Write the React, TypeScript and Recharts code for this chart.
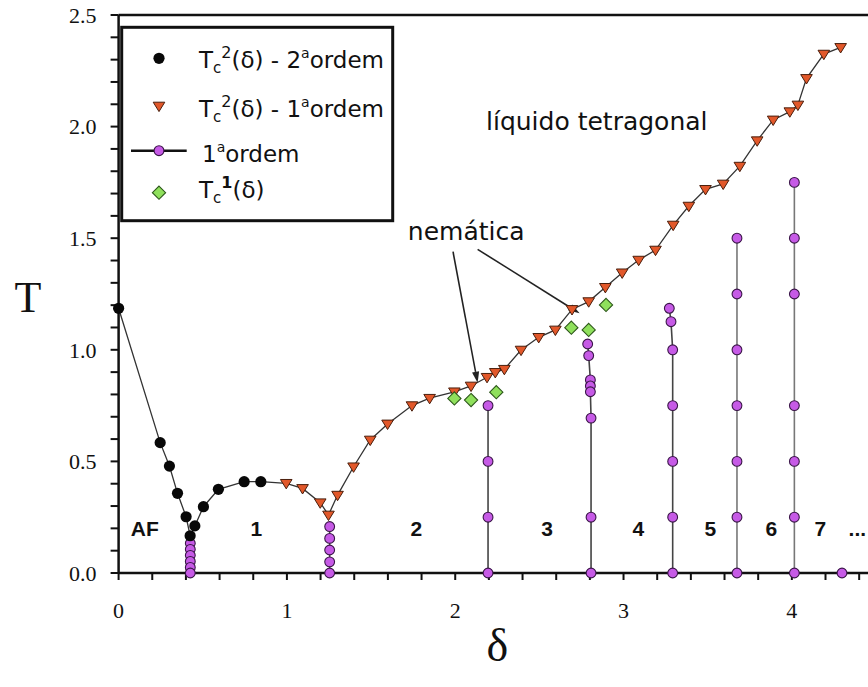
import React from 'react';
import { ScatterChart, Scatter, XAxis, YAxis, ReferenceLine } from 'recharts';

// Tc2(δ) - second order transition (black circles)
const secondOrder = [
  { x: 0.0, y: 1.186 }, { x: 0.247, y: 0.584 }, { x: 0.302, y: 0.479 }, { x: 0.35, y: 0.357 },
  { x: 0.401, y: 0.252 }, { x: 0.425, y: 0.167 }, { x: 0.453, y: 0.211 }, { x: 0.504, y: 0.297 },
  { x: 0.593, y: 0.375 }, { x: 0.746, y: 0.409 }, { x: 0.845, y: 0.409 },
];

// Tc2(δ) - first order transition (orange triangles)
const firstOrderTc2 = [
  { x: 0.996, y: 0.402 }, { x: 1.093, y: 0.379 }, { x: 1.198, y: 0.315 }, { x: 1.247, y: 0.26 },
  { x: 1.301, y: 0.349 }, { x: 1.396, y: 0.476 }, { x: 1.495, y: 0.596 }, { x: 1.598, y: 0.668 },
  { x: 1.743, y: 0.75 }, { x: 1.848, y: 0.783 }, { x: 1.995, y: 0.812 }, { x: 2.094, y: 0.838 },
  { x: 2.189, y: 0.877 }, { x: 2.238, y: 0.899 }, { x: 2.292, y: 0.913 }, { x: 2.391, y: 0.999 },
  { x: 2.496, y: 1.056 }, { x: 2.595, y: 1.089 }, { x: 2.694, y: 1.181 }, { x: 2.793, y: 1.216 },
  { x: 2.892, y: 1.28 }, { x: 2.992, y: 1.345 }, { x: 3.09, y: 1.402 }, { x: 3.19, y: 1.447 },
  { x: 3.295, y: 1.559 }, { x: 3.388, y: 1.644 }, { x: 3.487, y: 1.719 }, { x: 3.592, y: 1.743 },
  { x: 3.691, y: 1.823 }, { x: 3.794, y: 1.937 }, { x: 3.889, y: 2.03 }, { x: 3.988, y: 2.067 },
  { x: 4.036, y: 2.097 }, { x: 4.087, y: 2.216 }, { x: 4.19, y: 2.325 }, { x: 4.29, y: 2.355 },
];

// Tc1(δ) (green diamonds)
const tc1 = [
  { x: 1.995, y: 0.782 }, { x: 2.094, y: 0.775 }, { x: 2.244, y: 0.81 },
  { x: 2.69, y: 1.099 }, { x: 2.793, y: 1.089 }, { x: 2.896, y: 1.201 },
];

// 1st order lines (purple)
const firstOrderAF1 = [
  { x: 0.426, y: 0.133 }, { x: 0.426, y: 0.106 }, { x: 0.426, y: 0.079 },
  { x: 0.426, y: 0.052 }, { x: 0.426, y: 0.025 }, { x: 0.426, y: 0.0 },
];
const firstOrder12 = [
  { x: 1.254, y: 0.208 }, { x: 1.254, y: 0.155 }, { x: 1.254, y: 0.103 },
  { x: 1.254, y: 0.05 }, { x: 1.254, y: 0.0 },
];
const firstOrder23 = [
  { x: 2.195, y: 0.75 }, { x: 2.195, y: 0.5 }, { x: 2.195, y: 0.25 }, { x: 2.195, y: 0.0 },
];
const firstOrder34 = [
  { x: 2.787, y: 1.026 }, { x: 2.793, y: 0.974 }, { x: 2.803, y: 0.865 }, { x: 2.803, y: 0.838 },
  { x: 2.803, y: 0.812 }, { x: 2.807, y: 0.694 }, { x: 2.807, y: 0.25 }, { x: 2.807, y: 0.0 },
];
const firstOrder45 = [
  { x: 3.272, y: 1.186 }, { x: 3.282, y: 1.126 }, { x: 3.292, y: 1.0 }, { x: 3.292, y: 0.75 },
  { x: 3.292, y: 0.5 }, { x: 3.292, y: 0.25 }, { x: 3.292, y: 0.0 },
];
const firstOrder56 = [
  { x: 3.674, y: 1.5 }, { x: 3.674, y: 1.25 }, { x: 3.674, y: 1.0 }, { x: 3.674, y: 0.75 },
  { x: 3.674, y: 0.5 }, { x: 3.674, y: 0.25 }, { x: 3.674, y: 0.0 },
];
const firstOrder67 = [
  { x: 4.015, y: 1.75 }, { x: 4.015, y: 1.5 }, { x: 4.015, y: 1.25 }, { x: 4.015, y: 0.75 },
  { x: 4.015, y: 0.5 }, { x: 4.015, y: 0.25 }, { x: 4.015, y: 0.0 },
];
const firstOrder78 = [{ x: 4.298, y: 0.0 }];

// Annotations (data coordinates)
const phaseLabels = [
  { x: 2.841, y: 1.985, text: 'líquido tetragonal' },
  { x: 2.065, y: 1.492, text: 'nemática' },
];
const regionLabels = [
  { x: 0.156, y: 0.166, text: 'AF' }, { x: 0.818, y: 0.166, text: '1' },
  { x: 1.769, y: 0.166, text: '2' }, { x: 2.546, y: 0.166, text: '3' },
  { x: 3.088, y: 0.166, text: '4' }, { x: 3.516, y: 0.166, text: '5' },
  { x: 3.878, y: 0.166, text: '6' }, { x: 4.169, y: 0.166, text: '7' },
  { x: 4.389, y: 0.166, text: '...' },
];
const arrowA = [{ x: 1.987, y: 1.4395 }, { x: 2.133, y: 0.8526 }];
const arrowB = [{ x: 2.133, y: 1.45 }, { x: 2.739, y: 1.1635 }];

// Axes
const xTicks = [0, 0.2, 0.4, 0.6, 0.8, 1, 1.2, 1.4, 1.6, 1.8, 2, 2.2, 2.4, 2.6, 2.8, 3, 3.2, 3.4, 3.6, 3.8, 4, 4.2, 4.4];
const xTickLabels = [0, 1, 2, 3, 4];
const yTicks = [0, 0.1, 0.2, 0.3, 0.4, 0.5, 0.6, 0.7, 0.8, 0.9, 1, 1.1, 1.2, 1.3, 1.4, 1.5, 1.6, 1.7, 1.8, 1.9, 2, 2.1, 2.2, 2.3, 2.4, 2.5];
const yTickLabels = [0, 0.5, 1, 1.5, 2, 2.5];

const boundaryCurve = [...secondOrder, ...firstOrderTc2];
const verticalLines = [firstOrderAF1, firstOrder12, firstOrder23, firstOrder34, firstOrder45, firstOrder56, firstOrder67, firstOrder78];

const INK = '#111';
const SANS = 'DejaVu Sans, Verdana, sans-serif';
const SERIF = 'Liberation Serif, Times New Roman, serif';

const NoMark = () => <g />;
const BlackDot = (p: any) => <circle cx={p.cx} cy={p.cy} r={5.6} fill="#080808" />;
const TriDown = (p: any) => {
  const { cx, cy } = p;
  return (
    <polygon
      points={`${cx - 5.8},${cy - 3.8} ${cx + 5.8},${cy - 3.8} ${cx},${cy + 5.6}`}
      fill="#e2582a" stroke="#4a1e0c" strokeWidth={1} />
  );
};
const PurpleDot = (p: any) => (
  <circle cx={p.cx} cy={p.cy} r={4.9} fill="#c65ae6" stroke="#3a1648" strokeWidth={1.1} />
);
const GreenDiamond = (p: any) => {
  const { cx, cy } = p;
  const s = 6.6;
  return (
    <polygon points={`${cx},${cy - s} ${cx + s},${cy} ${cx},${cy + s} ${cx - s},${cy}`}
      fill="#8fe05c" stroke="#2c561a" strokeWidth={1.1} />
  );
};
const getText = (p: any) => (p.payload && p.payload.text) || p.text;
const PhaseText = (p: any) => (
  <text x={p.cx} y={p.cy} textAnchor="middle" fontFamily={SANS} fontSize={25} fill={INK}>{getText(p)}</text>
);
const RegionText = (p: any) => (
  <text x={p.cx} y={p.cy} textAnchor="middle" fontFamily="Liberation Sans, Arial, sans-serif"
    fontWeight="bold" fontSize={21} fill={INK}>{getText(p)}</text>
);
const Arrow = (p: any) => {
  const x1 = Number(p.x1), y1 = Number(p.y1), x2 = Number(p.x2), y2 = Number(p.y2);
  const dx = x2 - x1, dy = y2 - y1;
  const L = Math.hypot(dx, dy) || 1;
  const ux = dx / L, uy = dy / L;
  const hl = 11, hw = 3.6;
  const bx = x2 - ux * hl, by = y2 - uy * hl;
  return (
    <g>
      <line x1={x1} y1={y1} x2={bx} y2={by} stroke="#222" strokeWidth={1.6} />
      <polygon points={`${x2},${y2} ${bx - uy * hw},${by + ux * hw} ${bx + uy * hw},${by - ux * hw}`} fill="#222" />
    </g>
  );
};

const near = (list: number[], v: number) => list.some((t) => Math.abs(t - v) < 1e-6);

const Legend = () => (
  <svg width={868} height={687} style={{ position: 'absolute', left: 0, top: 0, pointerEvents: 'none' }}>
    <rect x={121.7} y={27.3} width={271} height={193.4} fill="#fff" stroke={INK} strokeWidth={3} />
    <g fontFamily={SANS} fontSize={23} fill={INK}>
      <circle cx={159} cy={58.3} r={5.6} fill="#080808" />
      <text x={199} y={68}>T<tspan fontSize={15} dy={5}>c</tspan><tspan fontSize={16} dy={-15}>2</tspan><tspan dy={10}>(δ) - 2</tspan><tspan fontSize={14} dy={-10}>a</tspan><tspan dy={10}>ordem</tspan></text>
      <polygon points={`${159 - 5.8},${106 - 3.8} ${159 + 5.8},${106 - 3.8} 159,${106 + 5.6}`} fill="#e2582a" stroke="#4a1e0c" strokeWidth={1} />
      <text x={199} y={116.5}>T<tspan fontSize={15} dy={5}>c</tspan><tspan fontSize={16} dy={-15}>2</tspan><tspan dy={10}>(δ) - 1</tspan><tspan fontSize={14} dy={-10}>a</tspan><tspan dy={10}>ordem</tspan></text>
      <line x1={131} y1={150.7} x2={186.7} y2={150.7} stroke={INK} strokeWidth={2.5} />
      <circle cx={159} cy={150.7} r={4.9} fill="#c65ae6" stroke="#3a1648" strokeWidth={1.1} />
      <text x={202} y={161.5}>1<tspan fontSize={14} dy={-10}>a</tspan><tspan dy={10}>ordem</tspan></text>
      <polygon points={`159,${192.7 - 6.6} ${159 + 6.6},192.7 159,${192.7 + 6.6} ${159 - 6.6},192.7`} fill="#8fe05c" stroke="#2c561a" strokeWidth={1.1} />
      <text x={199} y={198}>T<tspan fontSize={15} dy={5}>c</tspan><tspan fontSize={16} fontWeight="bold" dy={-15}>1</tspan><tspan dy={10}>(δ)</tspan></text>
    </g>
  </svg>
);

export default function App() {
  return (
    <div style={{ position: 'absolute', left: 0, top: 0, width: 868, height: 687, overflow: 'hidden', background: '#fff' }}>
      <ScatterChart width={880} height={687} margin={{ top: 15, right: 4, left: 0, bottom: 0 }}>
        <XAxis
          type="number" dataKey="x" domain={[0, 4.5]} ticks={xTicks} interval={0}
          tickFormatter={(v: number) => (near(xTickLabels, v) ? String(Math.round(v)) : '')}
          height={114} tickSize={7} tickMargin={22.4}
          axisLine={{ stroke: INK, strokeWidth: 2.5 }} tickLine={{ stroke: INK, strokeWidth: 2 }}
          tick={{ fontFamily: SERIF, fontSize: 22, fill: INK }}
          label={{
            content: (props: any) => {
              const vb = props.viewBox || {};
              return (
                <text x={vb.x + vb.width / 2} y={vb.y + 88} textAnchor="middle" fontFamily={SERIF} fontSize={46} fill={INK}>δ</text>
              );
            },
          }}
        />
        <YAxis
          type="number" dataKey="y" domain={[0, 2.5]} ticks={yTicks} interval={0}
          tickFormatter={(v: number) => (near(yTickLabels, v) ? v.toFixed(1) : '')}
          width={118.6} tickSize={8} tickMargin={14}
          axisLine={{ stroke: INK, strokeWidth: 2.5 }} tickLine={{ stroke: INK, strokeWidth: 2 }}
          tick={{ fontFamily: SERIF, fontSize: 22, fill: INK }}
          label={{
            content: (props: any) => {
              const vb = props.viewBox || {};
              return (
                <text x={vb.x + 28} y={vb.y + vb.height / 2 + 18} textAnchor="middle" fontFamily={SERIF} fontSize={44} fill={INK}>T</text>
              );
            },
          }}
        />
        <ReferenceLine y={2.5} stroke={INK} strokeWidth={2.5} />
        <Scatter data={boundaryCurve} line={{ stroke: '#333', strokeWidth: 1.3 }} shape={NoMark} isAnimationActive={false} />
        {verticalLines.map((d, i) => (
          <Scatter key={i} data={d} line={{ stroke: i >= 5 ? '#777' : '#444', strokeWidth: 1.6 }} shape={PurpleDot} isAnimationActive={false} />
        ))}
        <Scatter data={secondOrder} shape={BlackDot} isAnimationActive={false} />
        <Scatter data={firstOrderTc2} shape={TriDown} isAnimationActive={false} />
        <Scatter data={tc1} shape={GreenDiamond} isAnimationActive={false} />
        <ReferenceLine segment={arrowA} shape={Arrow} ifOverflow="visible" />
        <ReferenceLine segment={arrowB} shape={Arrow} ifOverflow="visible" />
        <Scatter data={phaseLabels} shape={PhaseText} isAnimationActive={false} />
        <Scatter data={regionLabels} shape={RegionText} isAnimationActive={false} />
      </ScatterChart>
      <Legend />
    </div>
  );
}
